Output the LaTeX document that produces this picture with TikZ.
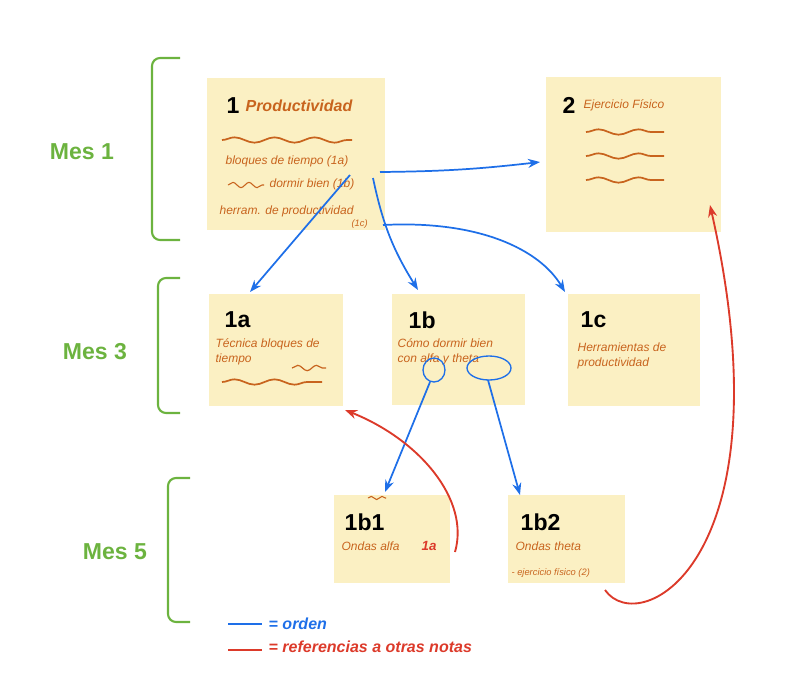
\documentclass[tikz,border=0pt]{standalone}
\usepackage{fontspec}
\setmainfont{Liberation Sans}
\usetikzlibrary{decorations.pathmorphing,arrows.meta}
\definecolor{note}{HTML}{FBF0C3}
\definecolor{ora}{HTML}{C8641E}
\definecolor{grn}{HTML}{6CB33F}
\definecolor{blu}{HTML}{1E6FE8}
\definecolor{rd}{HTML}{DC3A2A}
\begin{document}
\begin{tikzpicture}[x=0.75pt,y=-0.75pt,
 note/.style={fill=note,draw=none,anchor=north west,inner sep=0},
 ttl/.style={font=\bfseries\LARGE,anchor=west},
 txt/.style={font=\itshape\small,text=ora,anchor=west,align=left,inner sep=1pt},
 wav/.style={ora,line width=1.3pt,decorate,decoration={snake,amplitude=2pt,segment length=30pt}},
 brk/.style={grn,line width=1.6pt,rounded corners=6pt},
 mes/.style={grn,font=\bfseries\LARGE},
 bar/.style={blu,line width=1.3pt,-{Stealth[length=9pt]}},
 rar/.style={rd,line width=1.4pt,-{Stealth[length=9pt]}}]
\useasboundingbox (0,0) rectangle (800,697);
\node[note,minimum width={178*0.75pt},minimum height={152*0.75pt}] (n1) at (207,78) {};
\node[note,minimum width={175*0.75pt},minimum height={155*0.75pt}] (n2) at (546,77) {};
\node[note,minimum width={134*0.75pt},minimum height={112*0.75pt}] (na) at (209,294) {};
\node[note,minimum width={133*0.75pt},minimum height={111*0.75pt}] (nb) at (392,294) {};
\node[note,minimum width={132*0.75pt},minimum height={112*0.75pt}] (nc) at (568,294) {};
\node[note,minimum width={116*0.75pt},minimum height={88*0.75pt}] (nb1) at (334,495) {};
\node[note,minimum width={117*0.75pt},minimum height={88*0.75pt}] (nb2) at (508,495) {};
% note 1
\node[ttl] (t1) at (222,106) {1};
\node[txt,font=\bfseries\itshape\large] (t1b) at (244,106) {Productividad};
\draw[wav] (222,140) -- (352,140);
\node[txt] (l1) at (224,161) {bloques de tiempo (1a)};
\node[txt] (l2) at (268,184) {dormir bien (1b)};
\draw[wav,line width=0.8pt,decoration={segment length=12pt}] (228,185) -- (264,185);
\node[txt] (l3) at (218,211) {herram. de productividad};
\node[txt,font=\itshape\scriptsize] (l4) at (350,224) {(1c)};
% note 2
\node[ttl] (t2) at (558,105) {2};
\node[txt] (t2b) at (582,105) {Ejercicio Físico};
\draw[wav] (586,132) -- (664,132);
\draw[wav] (586,156) -- (664,156);
\draw[wav] (586,180) -- (664,180);
% 1a
\node[ttl] (ta) at (220,320) {1a};
\node[txt] (la) at (214,352) {Técnica bloques de\\tiempo};
\draw[wav,line width=0.9pt,decoration={segment length=14pt}] (292,368) -- (326,368);
\draw[wav] (222,382) -- (322,382);
% 1b
\node[ttl] (tb) at (404,320) {1b};
\node[txt] (lb) at (396,352) {Cómo dormir bien\\con alfa y theta};
\draw[blu,line width=1pt] (434,370) ellipse (11 and 12);
\draw[blu,line width=1pt] (489,368) ellipse (22 and 12);
% 1c
\node[ttl] (tc) at (576,320) {1c};
\node[txt] (lc) at (576,356) {Herramientas de\\productividad};
% 1b1
\node[ttl] (tb1) at (340,522) {1b1};
\node[txt] (lb1) at (340,546) {Ondas alfa};
\node[txt,text=rd,font=\bfseries\itshape\normalsize] (r1) at (420,546) {1a};
\draw[wav,line width=0.8pt,decoration={segment length=8pt,amplitude=1.2pt}] (368,498) -- (386,498);
% 1b2
\node[ttl] (tb2) at (516,522) {1b2};
\node[txt] (lb2) at (514,546) {Ondas theta};
\node[txt,font=\itshape\scriptsize] (lb3) at (510,573) {- ejercicio físico (2)};
% brackets
\draw[brk] (180,58) -- (152,58) -- (152,240) -- (180,240);
\draw[brk] (180,278) -- (158,278) -- (158,413) -- (180,413);
\draw[brk] (190,478) -- (168,478) -- (168,622) -- (190,622);
\node[mes] (m1) at (82,152) {Mes 1};
\node[mes] (m3) at (95,352) {Mes 3};
\node[mes] (m5) at (115,552) {Mes 5};
% arrows
\coordinate (a0) at (380,172);
\coordinate (a1) at (350,175);
\coordinate (a2) at (373,178);
\coordinate (a3) at (383,225);
\coordinate (a4) at (430,382);
\coordinate (a5) at (488,380);
\draw[bar] (a0) to[bend left=-3] (540,162);
\draw[bar] (a1) -- (250,292);
\draw[bar] (a2) to[bend left=-10] (418,290);
\draw[bar] (a3) .. controls (480,220) and (540,250) .. (565,292);
\draw[bar] (a4) -- (385,492);
\draw[bar] (a5) -- (520,495);
\coordinate (r0) at (455,552);
\coordinate (r2) at (605,590);
\draw[rar] (r0) .. controls (470,500) and (420,440) .. (345,410);
\draw[rar] (r2) .. controls (640,640) and (790,560) .. (710,205);
% legend
\coordinate (g0) at (228,624);
\coordinate (g1) at (262,624);
\coordinate (g2) at (228,650);
\coordinate (g3) at (262,650);
\draw[blu,line width=1.5pt] (g0) -- (g1);
\draw[rd,line width=1.5pt] (g2) -- (g3);
\node[blu,font=\bfseries\itshape\large,anchor=west] (lg1) at (264,624) {= orden};
\node[rd,font=\bfseries\itshape\large,anchor=west] (lg2) at (264,647) {= referencias a otras notas};
\end{tikzpicture}
\end{document}
